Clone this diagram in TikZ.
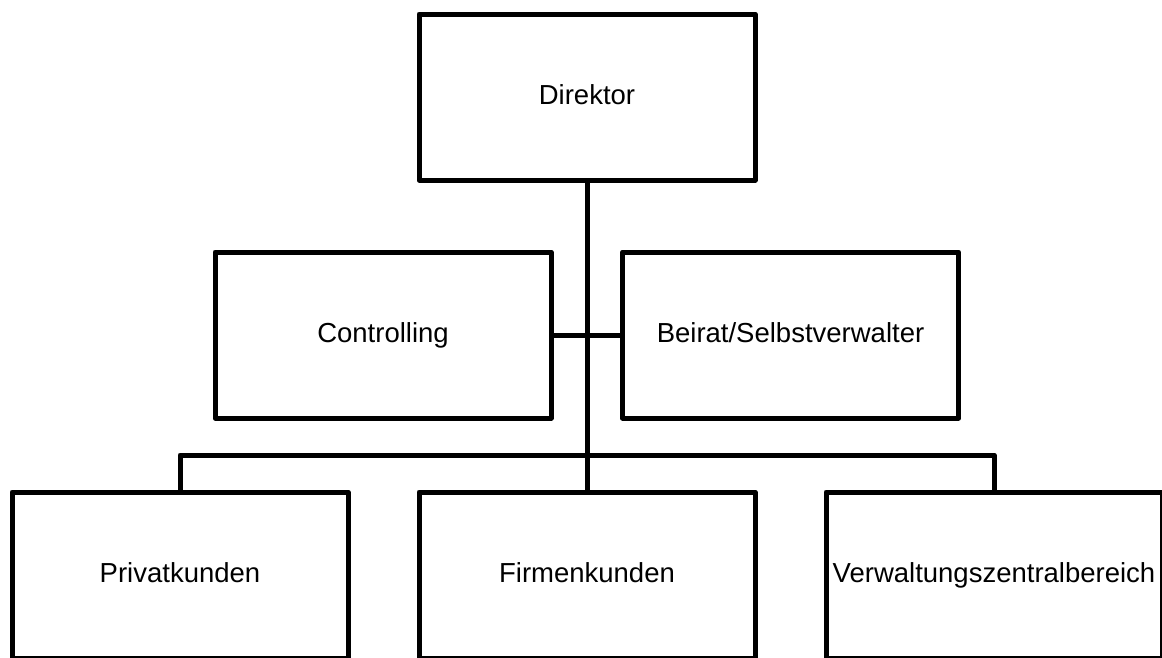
\documentclass[tikz,border=0pt]{standalone}
\usepackage{fontspec}
\setmainfont{Liberation Sans}
\begin{document}
\begin{tikzpicture}[x=1pt,y=-1pt,
  unit/.style={draw=black,line width=5pt,line join=round,rectangle,fill=white,
    inner sep=0pt,minimum width=336pt,minimum height=166pt,
    text height=20pt,text depth=5pt,
    font=\fontsize{27.5}{32}\selectfont},
  link/.style={draw=black,line width=5pt,line join=round}]
  \useasboundingbox (0,0) rectangle (1162,657);
  \clip (0,0) rectangle (1162,657);
  % boxes
  \node[unit] (dir)   at (587,97)   {Direktor};
  \node[unit] (ctrl)  at (383,335)  {Controlling};
  \node[unit] (beir)  at (790.5,335){Beirat/Selbstverwalter};
  \node[unit] (priv)  at (180,575)  {Privatkunden};
  \node[unit] (firm)  at (587,575)  {Firmenkunden};
  \node[unit] (verw)  at (994,575)  {Verwaltungszentralbereich};
  % bus joint on the trunk
  \coordinate (bus) at (587,455);
  % connectors
  \draw[link] (dir.south) -- (firm.north);
  \draw[link] (ctrl.east) -- (beir.west);
  \draw[link] (priv.north) |- (bus) -| (verw.north);
\end{tikzpicture}
\end{document}
